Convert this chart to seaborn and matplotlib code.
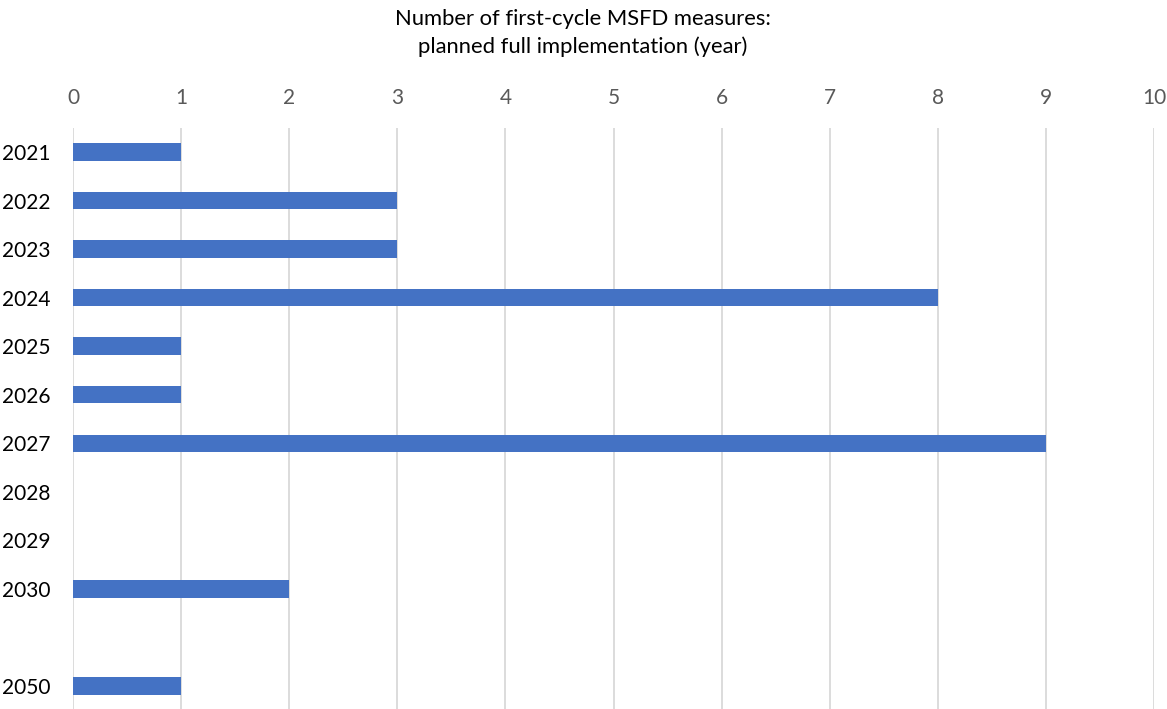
import matplotlib
matplotlib.use("Agg")
import matplotlib.pyplot as plt
import seaborn as sns
import pandas as pd

years = ["2021", "2022", "2023", "2024", "2025", "2026", "2027", "2028", "2029", "2030", " ", "2050"]
counts = [1, 3, 3, 8, 1, 1, 9, 0, 0, 2, 0, 1]
x_ticks = list(range(0, 11))
title = "Number of first-cycle MSFD measures:\nplanned full implementation (year)"

sns.set_theme(style="white")
plt.rcParams['font.family'] = ['Lato', 'DejaVu Sans']

df = pd.DataFrame({"year": years, "count": counts})

W, H = 1167, 709
fig = plt.figure(figsize=(W / 100, H / 100), dpi=100)
n = len(years)
step = (686 - 152) / (n - 1)
top_px = 152 - step / 2
bot_px = 686 + step / 2
left_px, right_px = 73, 1154
ax = fig.add_axes([left_px / W, 1 - bot_px / H, (right_px - left_px) / W, (bot_px - top_px) / H])

sns.barplot(data=df, x="count", y="year", order=years, orient="h",
            color="#4472C4", saturation=1, width=0.36, linewidth=0,
            ax=ax, zorder=3)

ax.set_xlim(0, 10)
ax.set_ylim(n - 0.5, -0.5)
ax.set_xticks(x_ticks)
ax.xaxis.tick_top()
ax.tick_params(axis="x", length=0, pad=14, labelsize=15, labelcolor="#595959")
ax.tick_params(axis="y", length=0, pad=0, labelsize=15, labelcolor="#000000")
for lab in ax.get_yticklabels():
    lab.set_horizontalalignment("left")
    lab.set_x(-left_px / (right_px - left_px) + 2 / (right_px - left_px))
ax.grid(axis="x", color="#D9D9D9", linewidth=1.3, zorder=0)
ax.grid(axis="y", visible=False)
ax.set_axisbelow(True)
for s in ax.spines.values():
    s.set_visible(False)
ax.set_xlabel("")
ax.set_ylabel("")

fig.text(583 / W, 1 - 33 / H, title, ha="center", va="center", fontsize=15.8,
         color="#000000", linespacing=1.5)

fig.savefig("out.png", dpi=100)
